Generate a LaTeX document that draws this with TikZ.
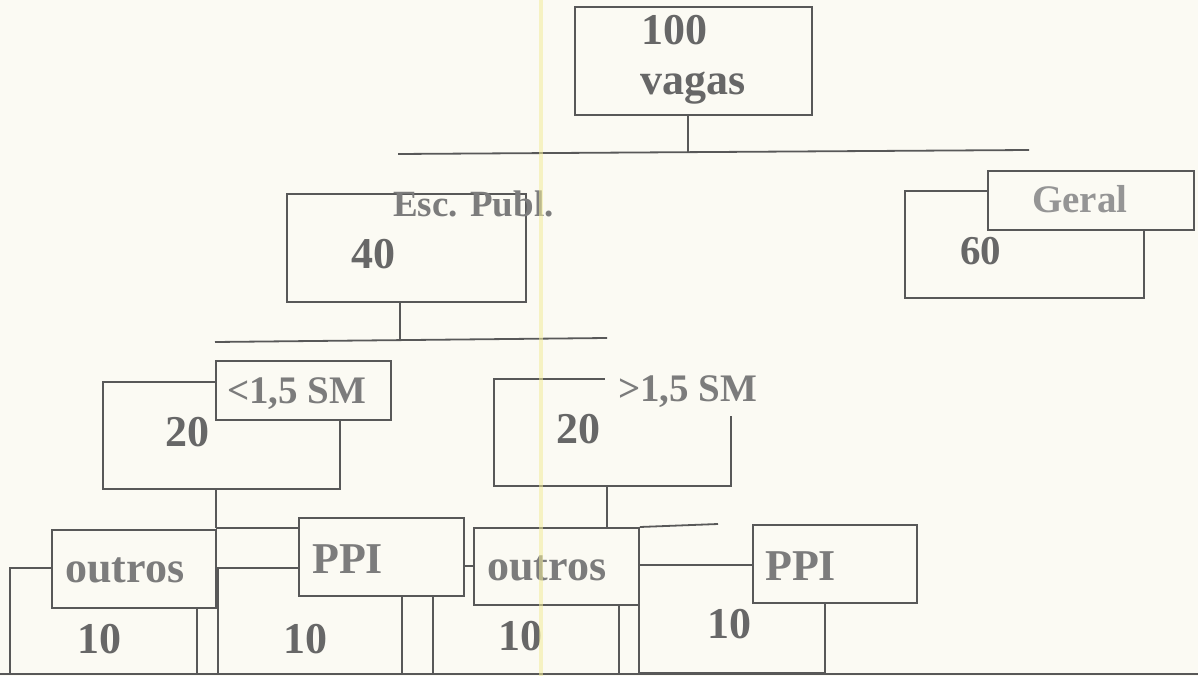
\documentclass[tikz,border=0pt]{standalone}
\usepackage{fontspec}
\setmainfont{Liberation Serif}
\definecolor{bg}{HTML}{FBFAF3}
\definecolor{ln}{HTML}{585858}
\definecolor{num}{HTML}{676767}
\definecolor{lab}{HTML}{7C7C7C}
\definecolor{labl}{HTML}{959595}
\definecolor{scan}{HTML}{F2EC9A}
\tikzset{
  bx/.style={draw=ln, line width=1.8pt, fill=bg, inner sep=0pt, anchor=north west, rectangle},
  lbx/.style={fill=bg, inner sep=0pt, anchor=north west, rectangle},
  big/.style={font=\bfseries\fontsize{44}{48}\selectfont, text=num, inner sep=0pt, anchor=base west},
  lab/.style={font=\bfseries\fontsize{39}{44}\selectfont, text=lab, inner sep=0pt, anchor=base west},
  conn/.style={draw=ln, line width=1.8pt},
}
\newcommand\mkbox[6]{\node[#6, minimum width=#4pt, minimum height=#5pt] (#1) at (#2,#3) {};}
\begin{document}
\begin{tikzpicture}[x=1pt, y=-1pt]
\fill[bg] (0,0) rectangle (1198,676);
\useasboundingbox (0,0) rectangle (1198,676);

% level 0
\mkbox{top}{574}{6}{237}{108}{bx}
\node[big] (t100) at (641,45) {100};
\node[big] (tvag) at (640,95) {vagas};
\coordinate (l1a) at (398,154);
\coordinate (l1b) at (1029,150);
\coordinate (l1m) at (688,152);
\draw[conn] (l1a) -- (l1b);
\draw[conn] (top.south -| l1m) -- (l1m);

% level 1 left
\mkbox{ep}{286}{193}{239}{108}{bx}
\node[lab, font=\bfseries\fontsize{37}{42}\selectfont] (tesc) at (393,217) {Esc. Publ.};
\node[big] (t40) at (351,268) {40};
\coordinate (l2a) at (215,342);
\coordinate (l2b) at (607,338);
\coordinate (l2m) at (400,340);
\draw[conn] (l2a) -- (l2b);
\draw[conn] (ep.south -| l2m) -- (l2m);

% level 1 right
\mkbox{g60}{904}{190}{239}{107}{bx}
\mkbox{geral}{987}{170}{206}{59}{bx}
\node[lab, text=labl] (tger) at (1032,213) {Geral};
\node[big, font=\bfseries\fontsize{41}{44}\selectfont] (t60) at (960,265) {60};

% level 2
\mkbox{b20a}{102}{381}{237}{107}{bx}
\mkbox{lta}{215}{360}{175}{59}{bx}
\node[lab] (tlt) at (227,403) {<1,5 SM};
\node[big] (t20a) at (165,446) {20};

\mkbox{b20b}{493}{378}{237}{107}{bx}
\mkbox{gtb}{605}{358}{172}{58}{lbx}
\node[lab] (tgt) at (618,401) {>1,5 SM};
\node[big] (t20b) at (556,443) {20};

% level 3 boxes
\mkbox{b10a}{9}{567}{187}{106}{bx}
\mkbox{b10b}{217}{567}{184}{106}{bx}
\mkbox{b10c}{432}{565}{186}{108}{bx}
\mkbox{b10d}{638}{564}{186}{108}{bx}
\mkbox{outa}{51}{529}{164}{78}{bx}
\mkbox{ppia}{298}{517}{165}{78}{bx}
\mkbox{outb}{473}{527}{165}{77}{bx}
\mkbox{ppib}{752}{524}{164}{78}{bx}

\coordinate (l3a) at (216,528);
\coordinate (l3b) at (607,527);
\coordinate (l3c) at (718,524);
\draw[conn] (b20a.south -| l3a) -- (l3a);
\draw[conn] (l3a) -- (ppia.west |- l3a);
\draw[conn] (b20b.south -| l3b) -- (l3b);
\draw[conn] (outb.north east) -- (l3c);

\node[big, text=lab] (to1) at (65,582) {outros};
\node[big, text=lab] (tp1) at (312,573) {PPI};
\node[big, text=lab] (to2) at (487,580) {outros};
\node[big, text=lab] (tp2) at (765,580) {PPI};
\node[big] (t10a) at (77,653) {10};
\node[big] (t10b) at (283,653) {10};
\node[big] (t10c) at (498,650) {10};
\node[big] (t10d) at (707,638) {10};

% scan border and streak
\draw[ln, line width=2.2pt] (0,674) -- (1198,674);
\draw[scan, line width=4pt, opacity=0.55] (541,0) -- (541,676);
\end{tikzpicture}
\end{document}
